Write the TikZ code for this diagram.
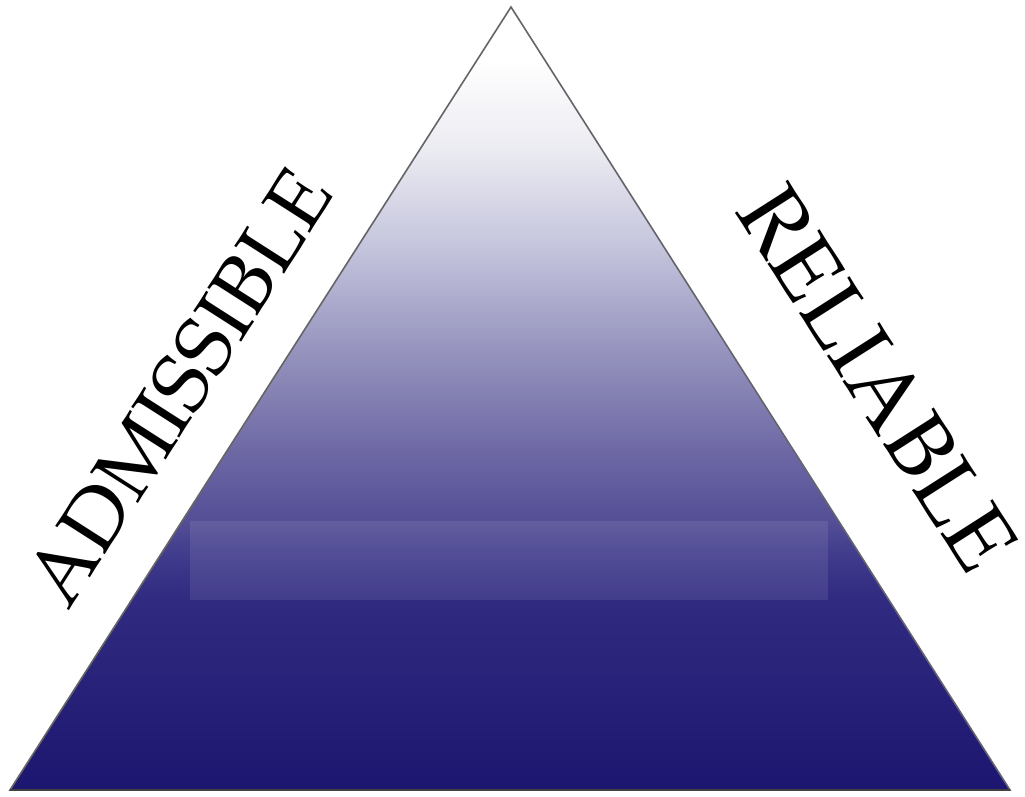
\documentclass[tikz,border=0pt]{standalone}
\usepackage[T1,TU]{fontenc}
\usetikzlibrary{calc}
\definecolor{c0}{RGB}{28,22,112}
\definecolor{c1}{RGB}{38,32,120}
\definecolor{c2}{RGB}{48,42,128}
\definecolor{c3}{RGB}{62,57,138}
\definecolor{c4}{RGB}{84,79,150}
\definecolor{c5}{RGB}{110,105,165}
\definecolor{c6}{RGB}{150,148,190}
\definecolor{c7}{RGB}{195,195,220}
\definecolor{c8}{RGB}{235,235,242}
\definecolor{edge}{RGB}{100,100,105}
\pgfdeclareverticalshading{pyr}{100bp}{%
  color(0bp)=(c0); color(25bp)=(c0); color(30.75bp)=(c1); color(37.13bp)=(c2);
  color(39.69bp)=(c3); color(42.24bp)=(c4); color(46.71bp)=(c5); color(53.1bp)=(c6);
  color(59.48bp)=(c7); color(65.87bp)=(c8); color(71.6bp)=(white); color(100bp)=(white)}
\pgfdeclareverticalshading{band}{100bp}{%
  color(0bp)=(black); color(25bp)=(black); color(75bp)=(white); color(100bp)=(white)}
\pgfdeclarefading{bandfade}{\tikz\shade[shading=band] (0,0) rectangle (2,2);}
\tikzset{
  label text/.style={text=black, inner sep=0pt,
    font=\fontencoding{T1}\fontfamily{ppl}\fontsize{#1}{#1}\selectfont}
}
\begin{document}
\begin{tikzpicture}[x=1pt,y=-1pt]
\useasboundingbox (0,0) rectangle (1025,796);
\coordinate (apex) at (511,7);
\coordinate (bl) at (10,790);
\coordinate (br) at (1010,790);
\shade[shading=pyr] (apex) -- (br) -- (bl) -- cycle;
% subtle highlight band
\fill[white, fill opacity=0.09] (190,521) rectangle (828,600);
\draw[edge, line width=1.6pt, line join=miter] (apex) -- (br) -- (bl) -- cycle;
\draw[black!75, line width=1.4pt] (bl) -- (br);
\node[label text=82, rotate=57.4] (adm) at (179,388) {ADMISSIBLE};
\node[label text=90, rotate=-57.4] (rel) at (878,378) {RELIABLE};
\end{tikzpicture}
\end{document}
